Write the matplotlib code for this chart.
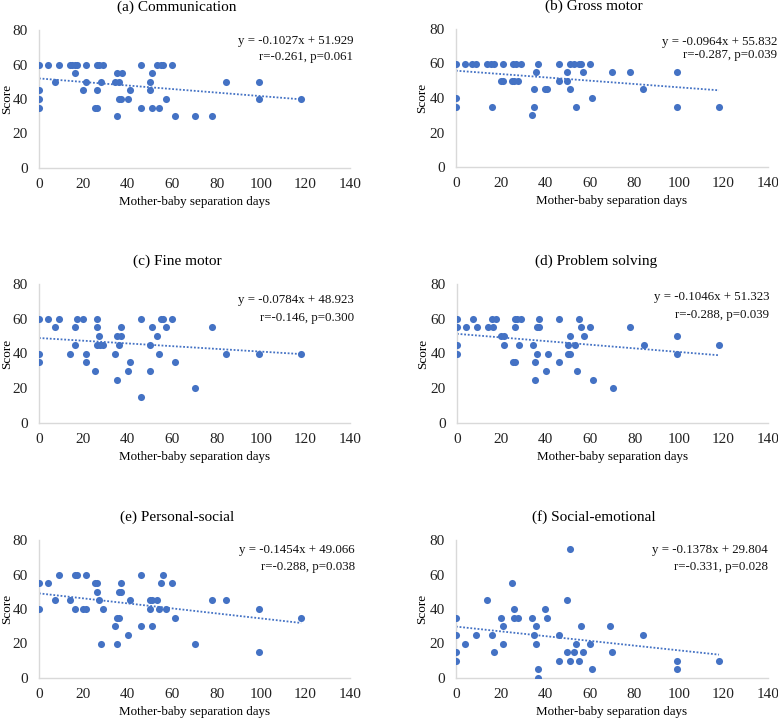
import matplotlib
matplotlib.use("Agg")
import matplotlib.pyplot as plt
import numpy as np

plt.rcParams['font.family'] = ['Liberation Serif', 'DejaVu Serif']

W, H = 778, 719

titles = ["(a) Communication", "(b) Gross motor", "(c) Fine motor",
          "(d) Problem solving", "(e) Personal-social", "(f) Social-emotional"]
xlabel = "Mother-baby separation days"
ylabel = "Score"
x_ticks = [0, 20, 40, 60, 80, 100, 120, 140]
y_ticks = [0, 20, 40, 60, 80]

# regression text (slope, intercept, r, p)
slopes = [-0.1027, -0.0964, -0.0784, -0.1046, -0.1454, -0.1378]
intercepts = [51.929, 55.832, 48.923, 51.323, 49.066, 29.804]
r_vals = ["-0.261", "-0.287", "-0.146", "-0.288", "-0.288", "-0.331"]
p_vals = ["0.061", "0.039", "0.300", "0.039", "0.038", "0.028"]

# (a) Communication
a_x = [0, 4, 9, 14, 15, 16, 17, 21, 26, 27, 29, 46, 53, 55, 56, 60,
       16, 35, 37.5, 51,
       7, 21, 28, 34, 36, 50, 84, 99,
       0, 20, 26, 41, 50,
       0, 36, 37, 40, 57, 99, 118,
       0, 25, 26, 46, 51, 54,
       35, 61, 70, 78]
a_y = [60]*16 + [55]*4 + [50]*8 + [45]*5 + [40]*7 + [35]*6 + [30]*4

# (b) Gross motor
b_x = [0, 4, 7, 9, 14, 15.5, 17, 21, 25.6, 27, 29, 37, 46, 51, 53, 55, 56, 60,
       36, 50, 57, 70, 78, 99,
       20, 21, 25, 26, 28, 46, 50,
       35, 40, 41, 51, 84,
       0, 61,
       0, 16, 35, 54, 99, 118,
       34]
b_y = [60]*18 + [55]*6 + [50]*7 + [45]*5 + [40]*2 + [35]*6 + [30]*1

# (c) Fine motor
c_x = [0, 4, 9, 17, 20, 26, 46, 55, 56, 60,
       7, 16, 26, 37, 51, 57, 78,
       27, 35, 37, 53,
       16, 26, 27.5, 29, 36, 50,
       0, 14, 21, 34, 54, 84, 99, 118,
       0, 21, 41, 61,
       25, 40, 50,
       35, 70, 46]
c_y = [60]*10 + [55]*7 + [50]*4 + [45]*6 + [40]*8 + [35]*4 + [30]*3 + [25, 20, 15]

# (d) Problem solving
d_x = [0, 7, 15.7, 17.4, 26, 27, 29, 37, 46, 55,
       0, 4, 9, 14, 16, 26, 36, 37, 56, 60, 78,
       20, 21, 51, 57, 99,
       0, 21, 28, 34, 50, 53, 84, 118,
       0, 36, 41, 50, 51, 99,
       25, 26, 35, 46,
       40, 54,
       35, 61,
       70]
d_y = [60]*10 + [55]*11 + [50]*5 + [45]*8 + [40]*6 + [35]*4 + [30]*2 + [25]*2 + [20]

# (e) Personal-social
e_x = [9, 16, 17, 21, 46, 56,
       0, 4, 25, 26, 37, 55, 60,
       26, 36, 37,
       7, 14, 27, 41, 50, 51, 53, 78, 84,
       0, 16, 20, 21, 29, 50, 54, 57, 99,
       35, 36, 61, 118,
       34, 46, 51,
       40,
       28, 35, 70,
       99]
e_y = [60]*6 + [55]*7 + [50]*3 + [45]*9 + [40]*9 + [35]*4 + [30]*3 + [25] + [20]*3 + [15]

# (f) Social-emotional
f_x = [51,
       25,
       14, 50,
       26, 40,
       0, 20, 26, 28, 34, 41,
       21, 36, 56, 69,
       0, 9, 16, 35, 46, 84,
       4, 21, 36, 54, 60,
       0, 17, 50, 53, 57, 70,
       0, 46, 51, 55, 99, 118,
       37, 61, 99,
       37]
f_y = [75, 55, 45, 45, 40, 40] + [35]*6 + [30]*4 + [25]*6 + [20]*5 + [15]*6 + [10]*6 + [5]*3 + [0]

xs = [a_x, b_x, c_x, d_x, e_x, f_x]
ys = [a_y, b_y, c_y, d_y, e_y, f_y]

# axes rectangles in pixels: left, right, top, bottom
rects = [(39, 350, 30, 168), (456, 768, 29, 167),
         (39, 350, 284, 423), (457, 768, 284, 423),
         (39, 350, 540, 678), (456, 768, 540, 678)]
# text offsets: (dx px from right, dy1 px, dy2 px below top)
txt = [(3, 11, 27), (9, 12.5, 26), (4, 16, 33.5), (1, 13, 31), (5, 10, 27), (0, 10, 27)]
title_cx = [177, 594, 177, 596, 177, 594]
ylab_cx = [7, 422, 7, 423, 7, 422]

blue = "#4472C4"
PT = 0.72
fig = plt.figure(figsize=(W/100, H/100), dpi=100)

for i in range(6):
    l, r, t, b = rects[i]
    ax = fig.add_axes([l/W, 1 - b/H, (r-l)/W, (b-t)/H])
    ax.scatter(xs[i], ys[i], s=26, color=blue, zorder=3, linewidths=0)
    xmax = max(xs[i])
    xl = np.array([0, xmax])
    ax.plot(xl, slopes[i]*xl + intercepts[i], linestyle=(0, (1, 1)), color=blue, lw=1.3, zorder=2)
    ax.set_xlim(0, 140)
    ax.set_ylim(0, 80)
    ax.set_xticks(x_ticks)
    ax.set_yticks(y_ticks)
    for s in ["top", "right"]:
        ax.spines[s].set_visible(False)
    for s in ["left", "bottom"]:
        ax.spines[s].set_color("#D9D9D9")
        ax.spines[s].set_linewidth(1.0)
    ax.tick_params(length=0, labelsize=11, colors="#222222", pad=7)
    ax.tick_params(axis='y', pad=8)
    # title
    ax.annotate(titles[i], xy=((title_cx[i] - l)/(r - l), 1), xycoords="axes fraction",
                xytext=(0, 23*PT), textcoords="offset points",
                ha="center", va="center", fontsize=11)
    ax.set_xlabel(xlabel, fontsize=9.4)
    ax.xaxis.set_label_coords(0.5, -34/(b - t))
    ax.xaxis.label.set_va("center")
    ax.set_ylabel(ylabel, fontsize=9.5)
    ax.yaxis.set_label_coords((ylab_cx[i] - l)/(r - l), 0.5)
    ax.yaxis.label.set_va("center")
    dx, dy1, dy2 = txt[i]
    ax.annotate(f"y = {slopes[i]:.4f}x + {intercepts[i]:.3f}", xy=(1, 1), xycoords="axes fraction",
                xytext=(dx*PT, -dy1*PT), textcoords="offset points",
                ha="right", va="center", fontsize=9.3, color="#111111")
    ax.annotate(f"r={r_vals[i]}, p={p_vals[i]}", xy=(1, 1), xycoords="axes fraction",
                xytext=(dx*PT, -dy2*PT), textcoords="offset points",
                ha="right", va="center", fontsize=9.3, color="#111111")

fig.savefig("out.png", dpi=100)
